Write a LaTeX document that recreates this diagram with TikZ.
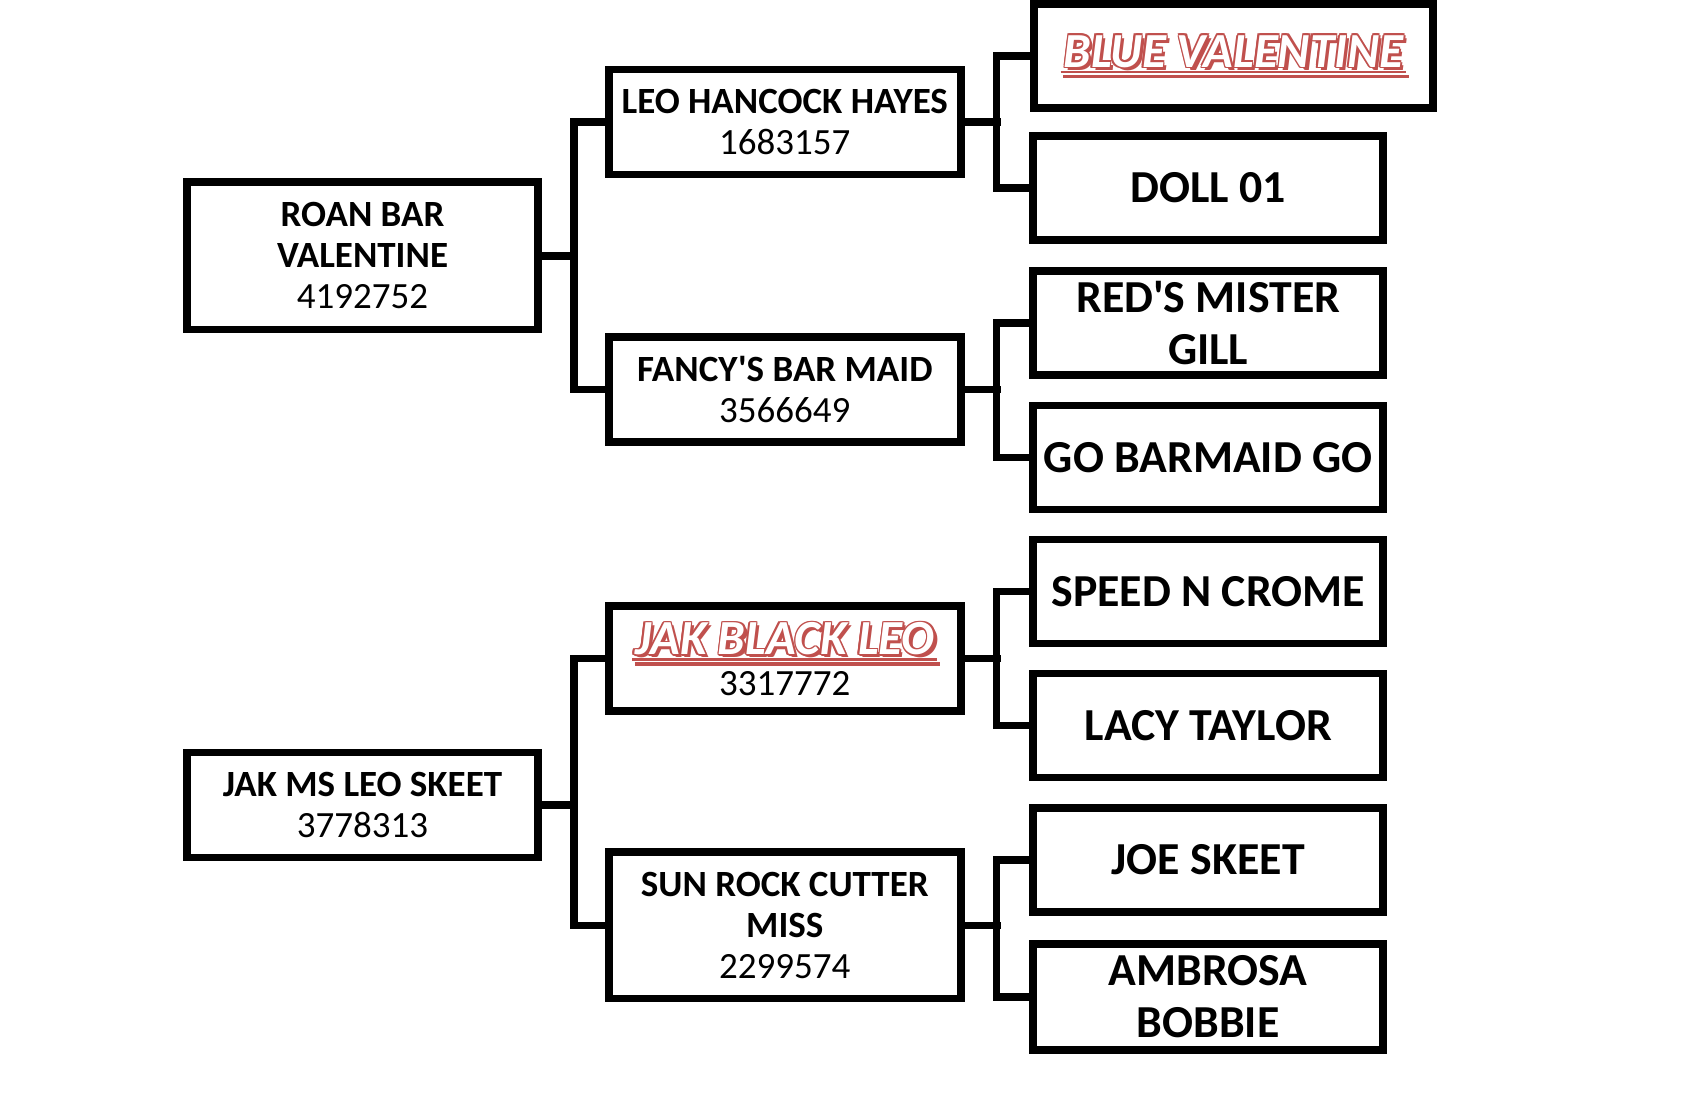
\documentclass[tikz,border=0pt]{standalone}
\usepackage{fontspec}
\setmainfont{Carlito}[Ligatures=TeXOff]
\definecolor{rojo}{RGB}{192,80,77}

% nombre en rojo con contorno y sombra
\newlength\anchonombre
\newcommand{\copia}[3]{\rlap{\kern#1\raisebox{#2}{\color{rojo}#3}}}
\newcommand{\nombrerojo}[1]{%
  \settowidth\anchonombre{#1}%
  \rlap{\kern-1.5pt\raisebox{-3.2pt}{\color{rojo}\rule{\dimexpr\anchonombre+3pt\relax}{1.4pt}}}%
  \rlap{\kern-0.3pt\raisebox{-5.6pt}{\color{rojo}\rule{\dimexpr\anchonombre+3pt\relax}{1.8pt}}}%
  \copia{1.6pt}{-1.5pt}{#1}%
  \copia{0.8pt}{0pt}{#1}\copia{-0.8pt}{0pt}{#1}%
  \copia{0pt}{0.8pt}{#1}\copia{0pt}{-0.8pt}{#1}%
  \copia{0.6pt}{0.6pt}{#1}\copia{-0.6pt}{0.6pt}{#1}%
  \copia{0.6pt}{-0.6pt}{#1}\copia{-0.6pt}{-0.6pt}{#1}%
  \textcolor{white}{#1}}

\begin{document}
\begin{tikzpicture}[
        x=0.5pt, y=-0.5pt,
        caja/.style={rectangle, draw=black, line width=3.75pt, outer sep=0pt, align=center, minimum width=176pt, minimum height=52.5pt, inner sep=1pt, font=\fontsize{18.5}{20.5}\selectfont},
        caja3/.style={caja, minimum width=175pt, minimum height=52pt, font=\fontsize{22.9}{26}\selectfont\bfseries},
        linea/.style={line width=3.75pt, line cap=rect}
    ]
        \useasboundingbox (0,0) rectangle (1690,1092);

        \node[caja, minimum width=175.5pt, minimum height=73.75pt] (roan) at (362.5,255.75) {\textbf{ROAN BAR}\\\textbf{VALENTINE}\\4192752};
        \node[caja, minimum width=175.5pt] (jakms) at (362.5,805) {\textbf{JAK MS LEO SKEET}\\3778313};

        \node[caja] (leo) at (784.8,122) {\textbf{LEO HANCOCK HAYES}\\1683157};
        \node[caja] (fancy) at (784.8,389.5) {\textbf{FANCY'S BAR MAID}\\3566649};
        \node[caja] (jakblack) at (784.8,658.5) {\fontsize{24.5}{25}\selectfont\bfseries\itshape\nombrerojo{JAK BLACK LEO}\\3317772};
        \node[caja, minimum height=73.4pt] (sunrock) at (784.8,925.3) {\textbf{SUN ROCK CUTTER}\\\textbf{MISS}\\2299574};

        \node[caja3, minimum width=199.7pt] (blue) at (1233.5,56) {\fontsize{24.5}{26}\selectfont\itshape\nombrerojo{BLUE VALENTINE}};
        \node[caja3] (doll) at (1208.2,188) {DOLL 01};
        \node[caja3] (reds) at (1208.2,322.8) {RED'S MISTER\\GILL};
        \node[caja3] (gobar) at (1208.2,457.5) {GO BARMAID GO};
        \node[caja3] (speed) at (1208.2,591.7) {SPEED N CROME};
        \node[caja3] (lacy) at (1208.2,725.3) {LACY TAYLOR};
        \node[caja3] (joe) at (1208.2,860) {JOE SKEET};
        \node[caja3, minimum height=53pt] (ambrosa) at (1208.2,997) {AMBROSA\\BOBBIE};

        \draw[linea] (roan.east) -- ++(36,0);
        \draw[linea] (leo.west) -- ++(-35,0) |- (fancy.west);
        \draw[linea] (jakms.east) -- ++(36,0);
        \draw[linea] (jakblack.west) -- ++(-35,0) |- (sunrock.west);

        \draw[linea] (leo.east) -- ++(36,0);
        \draw[linea] (doll.west) -- ++(-36.5,0) |- (blue.west);
        \draw[linea] (fancy.east) -- ++(36,0);
        \draw[linea] (reds.west) -- ++(-36.5,0) |- (gobar.west);
        \draw[linea] (jakblack.east) -- ++(36,0);
        \draw[linea] (speed.west) -- ++(-36.5,0) |- (lacy.west);
        \draw[linea] (sunrock.east) -- ++(36,0);
        \draw[linea] (joe.west) -- ++(-36.5,0) |- (ambrosa.west);
    \end{tikzpicture}
\end{document}
